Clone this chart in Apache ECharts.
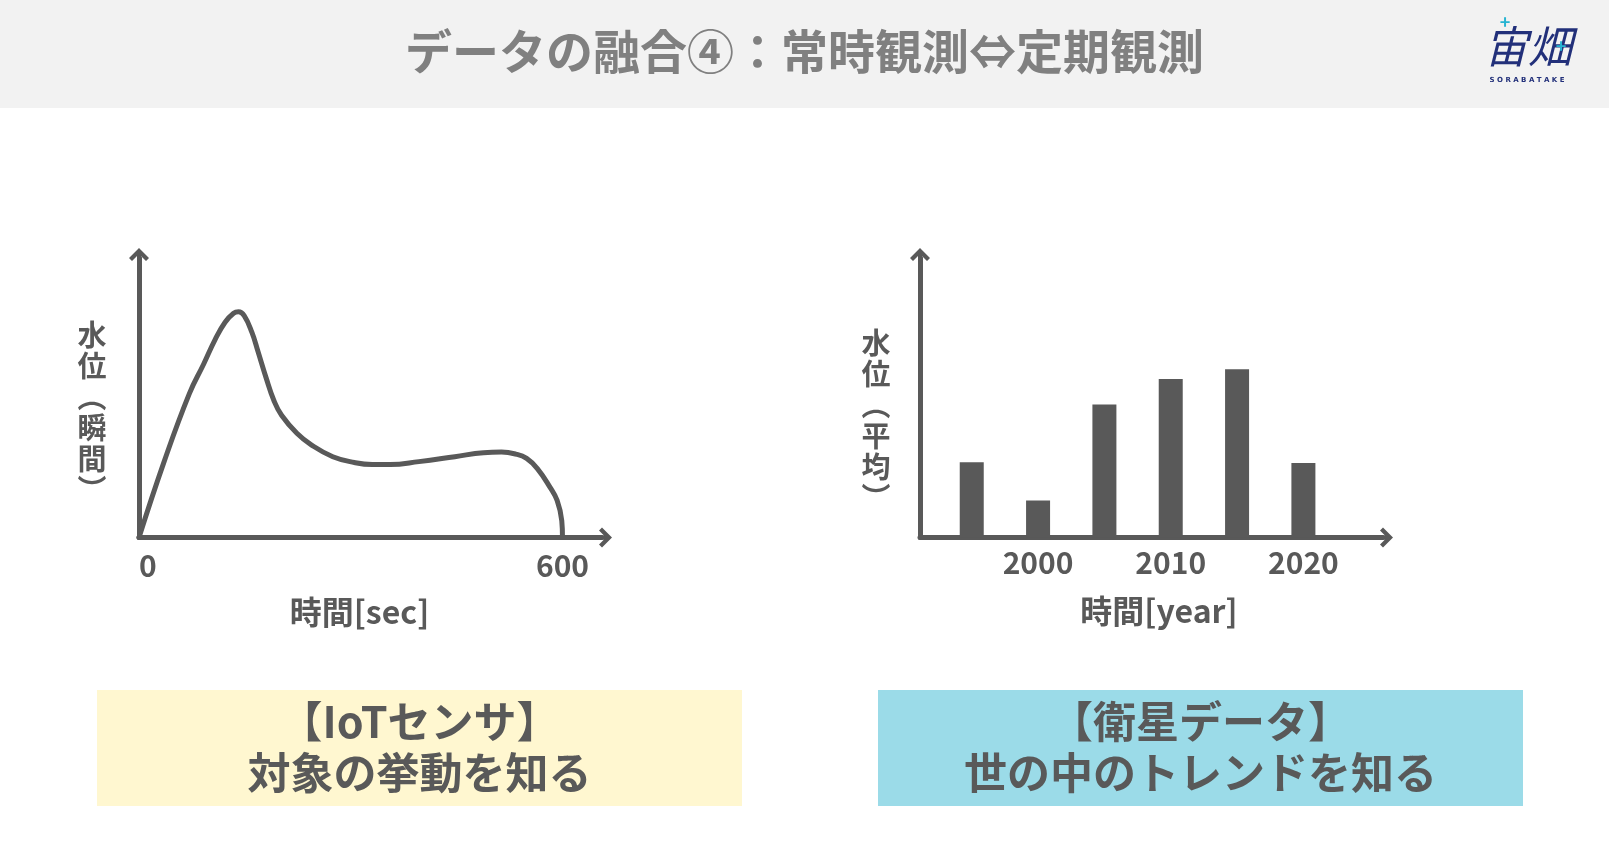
<!DOCTYPE html>
<html>
<head>
<meta charset="utf-8">
<title>データの融合④</title>
<script src="https://cdn.jsdelivr.net/npm/echarts@6/dist/echarts.min.js"></script>
<style>
    html, body { margin: 0; padding: 0; background: #ffffff; }
    #chart { width: 1609px; height: 864px; }
</style>
</head>
<body>
<div id="chart"></div>
<script>
// IoT sensor: instantaneous water level over one run (0-600 sec)
var timeSec = [0, 35.6, 71.2, 91.5, 108, 122, 134, 141, 149, 160, 168.5, 180, 191, 202,
    223.7, 244.1, 274.6, 305.1, 330.5, 355.9, 396.6, 447.5, 488.1, 513.6, 533.9, 549.2, 564.4, 582.2, 592.4, 599, 600];
var levelInstant = [0, 26.2, 49.6, 59.8, 68.4, 74.3, 77.4, 77.9, 76.6, 70.8, 64.3, 55.2, 47.4, 42.2,
    36.0, 32.0, 27.9, 25.9, 25.2, 25.2, 26.2, 27.9, 29.3, 29.5, 28.8, 27.3, 23.8, 17.4, 12.8, 5.8, 0];
var secTicks = [0, 600];

// satellite data: averaged water level every 5 years
var years = [1995, 2000, 2005, 2010, 2015, 2020];
var levelAverage = [26.0, 12.8, 45.9, 54.7, 58.1, 25.7];
var yearTicks = [2000, 2010, 2020];

var FONT = 'Noto Sans CJK JP';
var INK = '#595959';
var ARROW = 'path://M10,0L20,10L17,13L12,8L12,20L8,20L8,8L3,13L0,10Z';

function axisLine() {
    return {
        show: true,
        lineStyle: { color: INK, width: 5, cap: 'round' },
        symbol: ['none', ARROW],
        symbolSize: [22, 20]
    };
}

function tickLabel(values, margin) {
    return {
        show: true,
        customValues: values,
        margin: margin,
        color: INK,
        fontSize: 30,
        fontWeight: 'bold',
        fontFamily: FONT,
        formatter: function (v) { return String(v); }
    };
}

function nameStyle(padding) {
    return {
        color: INK,
        fontSize: 32,
        fontWeight: 'bold',
        fontFamily: FONT,
        align: 'center',
        verticalAlign: 'middle',
        padding: padding
    };
}

// vertical y-axis captions, one glyph per line
function yCaption(text, x, y) {
    return {
        type: 'text', x: x, y: y,
        style: {
            text: text.split('').join('\n'),
            fill: INK, fontSize: 29, fontWeight: 'bold', fontFamily: FONT,
            lineHeight: 31, align: 'center', verticalAlign: 'middle'
        }
    };
}

var chartDom = document.getElementById('chart');
var myChart = echarts.init(chartDom, null, { renderer: 'canvas' });
var option;

option = {
    backgroundColor: '#ffffff',
    animation: false,
    title: {
        text: 'データの融合④：常時観測⇔定期観測',
        left: 'center',
        top: 23,
        z: 10,
        textStyle: { color: '#808080', fontSize: 47, fontWeight: 'bold', fontFamily: FONT, lineHeight: 47 }
    },
    graphic: [
        { type: 'rect', z: -1, shape: { x: 0, y: 0, width: 1609, height: 108 }, style: { fill: '#f2f2f2' } },
        // logo
        { type: 'text', x: 1528, y: 46, z: 5, style: { text: '宙畑', fill: '#22307a', fontSize: 44, fontStyle: 'italic', fontFamily: FONT, align: 'center', verticalAlign: 'middle' } },
        { type: 'text', x: 1505, y: 22, z: 6, style: { text: '+', fill: '#27b4d2', fontSize: 18, fontWeight: 'bold', fontFamily: FONT, align: 'center', verticalAlign: 'middle' } },
        { type: 'text', x: 1561, y: 46, z: 6, style: { text: '+', fill: '#27b4d2', fontSize: 18, fontWeight: 'bold', fontFamily: FONT, align: 'center', verticalAlign: 'middle' } },
        { type: 'text', x: 1527, y: 80, z: 5, style: { text: 'S O R A B A T A K E', fill: '#22307a', fontSize: 7, fontWeight: 'bold', fontFamily: 'DejaVu Sans', align: 'center', verticalAlign: 'middle' } },
        // y-axis captions
        yCaption('水位︵瞬間︶', 92, 412),
        yCaption('水位︵平均︶', 876, 420),
        // caption boxes
        { type: 'rect', shape: { x: 97, y: 690, width: 645, height: 116 }, style: { fill: '#fff7d0' } },
        { type: 'text', x: 419.5, y: 747, style: { text: '【IoTセンサ】\n対象の挙動を知る', fill: INK, fontSize: 43, fontWeight: 'bold', fontFamily: FONT, lineHeight: 50.5, align: 'center', verticalAlign: 'middle' } },
        { type: 'rect', shape: { x: 878, y: 690, width: 645, height: 116 }, style: { fill: '#9bdbe8' } },
        { type: 'text', x: 1200.5, y: 747, style: { text: '【衛星データ】\n世の中のトレンドを知る', fill: INK, fontSize: 43, fontWeight: 'bold', fontFamily: FONT, lineHeight: 50.5, align: 'center', verticalAlign: 'middle' } }
    ],
    grid: [
        { left: 139, right: 1007, top: 258, bottom: 326.5, containLabel: false },
        { left: 920, right: 226, top: 258, bottom: 326.5, containLabel: false }
    ],
    xAxis: [
        {
            gridIndex: 0,
            type: 'value',
            min: 0,
            max: 656,
            splitLine: { show: false },
            axisTick: { show: false },
            axisLine: axisLine(),
            axisLabel: Object.assign(tickLabel(secTicks, 13), { alignMinLabel: 'left' }),
            name: '時間[sec]',
            nameLocation: 'middle',
            nameGap: 74,
            nameTextStyle: nameStyle([0, 22, 0, 0])
        },
        {
            gridIndex: 1,
            type: 'value',
            min: 1991.1,
            max: 2026,
            splitLine: { show: false },
            axisTick: { show: false },
            axisLine: axisLine(),
            axisLabel: tickLabel(yearTicks, 10),
            name: '時間[year]',
            nameLocation: 'middle',
            nameGap: 73,
            nameTextStyle: nameStyle([0, 0, 0, 15])
        }
    ],
    yAxis: [
        {
            gridIndex: 0,
            type: 'value',
            min: 0,
            max: 96.5,
            splitLine: { show: false },
            axisTick: { show: false },
            axisLabel: { show: false },
            axisLine: axisLine()
        },
        {
            gridIndex: 1,
            type: 'value',
            min: 0,
            max: 96.5,
            splitLine: { show: false },
            axisTick: { show: false },
            axisLabel: { show: false },
            axisLine: axisLine()
        }
    ],
    series: [
        {
            name: '水位（瞬間）',
            type: 'line',
            xAxisIndex: 0,
            yAxisIndex: 0,
            data: timeSec.map(function (t, i) { return [t, levelInstant[i]]; }),
            smooth: 0.45,
            showSymbol: false,
            lineStyle: { color: INK, width: 5, cap: 'round', join: 'round' },
            z: 1
        },
        {
            name: '水位（平均）',
            type: 'bar',
            xAxisIndex: 1,
            yAxisIndex: 1,
            data: years.map(function (y, i) { return [y, levelAverage[i]]; }),
            barWidth: 24,
            itemStyle: { color: INK },
            z: 1
        }
    ]
};

option && myChart.setOption(option);
</script>
</body>
</html>
